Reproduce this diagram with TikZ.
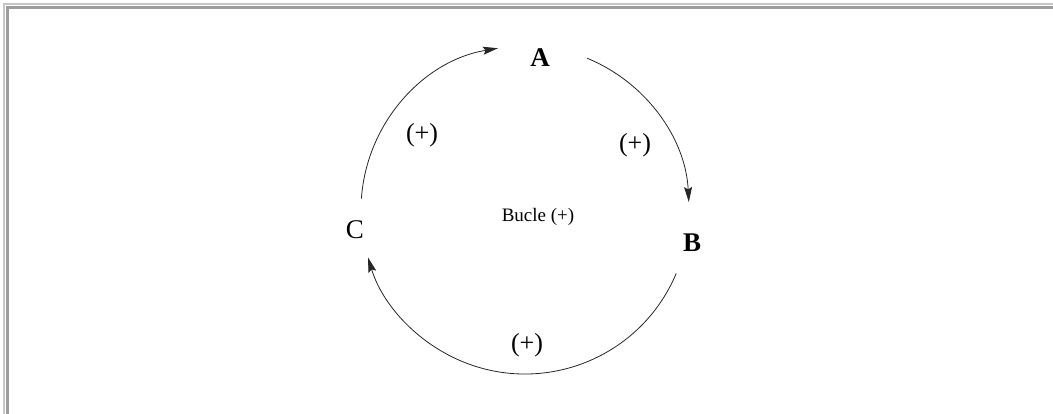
\documentclass[tikz,border=0pt]{standalone}
\usepackage{fontspec}
\setmainfont{Liberation Serif}
\usetikzlibrary{arrows.meta}
\begin{document}
\begin{tikzpicture}[x=1pt,y=1pt,
  conn/.style={line width=0.8pt,draw=black!85,-{Stealth[length=15pt,width=8pt,inset=2.5pt]}},
  vlabel/.style={font=\fontsize{27}{30}\selectfont\bfseries,inner sep=1pt},
  vlabelr/.style={font=\fontsize{27}{30}\selectfont,inner sep=1pt},
  sign/.style={font=\fontsize{26}{30}\selectfont,inner sep=1pt},
  loopname/.style={font=\fontsize{19}{22}\selectfont,inner sep=1pt}]
\path[use as bounding box] (0,0) rectangle (1053,414);
% inset frame (top and left only)
\fill[black!22] (3,408.5) rectangle (1053,410.5);
\fill[black!22] (3,0) rectangle (5,410.5);
\fill[black!38] (5.5,404.5) rectangle (1053,408);
\fill[black!38] (5.5,0) rectangle (9,408);
% centre of the loop
\coordinate (O) at (525,204);
% variables
\node[vlabel]  (A) at (540,356) {A};
\node[vlabel]  (B) at (692,171) {B};
\node[vlabelr] (C) at (355,184) {C};
\node[loopname] (L) at (538,197) {Bucle (+)};
% signs
\node[sign] (s1) at (422,279) {(+)};
\node[sign] (s2) at (635,269) {(+)};
\node[sign] (s3) at (527,69) {(+)};
% connectors (arcs of the loop circle)
\draw[conn] ([shift={(176:164pt)}]O) arc[start angle=176,end angle=99.5,radius=164pt];
\draw[conn] ([shift={(67.7:164pt)}]O) arc[start angle=67.7,end angle=2.8,radius=164pt];
\draw[conn] ([shift={(-22.8:164pt)}]O) arc[start angle=-22.8,end angle=-163.2,radius=164pt];
\end{tikzpicture}
\end{document}
